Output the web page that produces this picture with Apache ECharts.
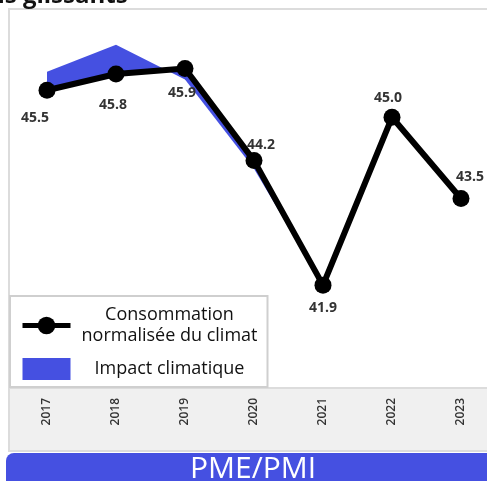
<!DOCTYPE html>
<html>
<head>
<meta charset="utf-8">
<script src="https://cdn.jsdelivr.net/npm/echarts@6/dist/echarts.min.js"></script>
<style>
  html, body { margin: 0; padding: 0; background: #fff; }
  #chart { width: 487px; height: 481px; }
</style>
</head>
<body>
<div id="chart"></div>
<script>
const years = ['2017', '2018', '2019', '2020', '2021', '2022', '2023']
const consommation = [45.5, 45.8, 45.9, 44.2, 41.9, 45.0, 43.5]
const impact = [45.84, 46.34, 45.7, 44.05, 41.9, 45.0, 43.42]

const nameConso = 'Consommation normalisée du climat'
const nameImpact = 'Impact climatique'
const blue = '#4550e1'
const font = 'Open Sans'

// label placement per point (offset from the dot centre)
const labelOffsets = [[-12, 28], [-3, 31], [-3, 24], [7, -16], [0, 23], [-4, -19], [9, -21]]

const chart = echarts.init(document.getElementById('chart'), null, { renderer: 'canvas' })

const option = {
  animation: false,
  backgroundColor: '#fff',
  grid: { left: 47, right: 26, top: 9, height: 379 },
  xAxis: {
    type: 'category',
    data: years,
    boundaryGap: false,
    axisLine: { show: false },
    axisTick: { show: false },
    axisLabel: { rotate: 90, margin: 10, fontFamily: font, fontSize: 12, fontWeight: 600, color: '#333' },
  },
  yAxis: { type: 'value', min: 40, max: 47, show: false, splitLine: { show: false } },
  legend: {
    left: 10,
    top: 296,
    orient: 'vertical',
    padding: [10, 4, 7, 10],
    itemGap: 13,
    itemWidth: 48,
    itemHeight: 22,
    backgroundColor: '#fff',
    borderColor: '#cfcfcf',
    borderWidth: 2,
    z: 10,
    lineStyle: { width: 5 },
    data: [
      { name: nameConso },
      { name: nameImpact, icon: 'rect', itemStyle: { color: blue } },
    ],
    formatter(name) {
      if (name === nameConso)
        return '{a|Consommation}\n{a|normalisée du climat}'
      return `{a|${name}}`
    },
    textStyle: {
      rich: {
        a: { width: 188, align: 'center', fontFamily: font, fontSize: 18, lineHeight: 21, color: '#111' },
      },
    },
  },
  graphic: [
    {
      type: 'text', left: -41, top: -16, z: -5,
      style: { text: 'mois glissants', fontFamily: font, fontSize: 24, fontWeight: 'bold', fill: '#111' },
    },
    {
      type: 'rect', z: -10,
      shape: { x: 9, y: 9, width: 500, height: 442 },
      style: { fill: '#fff', stroke: '#dcdcdc', lineWidth: 2 },
    },
    {
      type: 'rect', z: -9,
      shape: { x: 9, y: 388, width: 500, height: 63 },
      style: { fill: '#f0f0f0', stroke: '#dcdcdc', lineWidth: 2 },
    },
    {
      type: 'rect', z: -8,
      shape: { x: 6, y: 453, width: 500, height: 40, r: [8, 0, 0, 0] },
      style: { fill: blue },
    },
    {
      type: 'text', x: 253, y: 454, z: -7,
      style: { text: 'PME/PMI', fontFamily: font, fontSize: 30, fill: '#fff', align: 'center', verticalAlign: 'top' },
    },
  ],
  series: [
    {
      name: nameImpact,
      type: 'custom',
      z: 1,
      itemStyle: { color: blue },
      data: impact.map((v, i) => [i, v]),
      encode: { x: 0, y: 1 },
      renderItem(params, api) {
        const i = params.dataIndex
        if (i >= years.length - 1)
          return
        return {
          type: 'polygon',
          shape: {
            points: [
              api.coord([i, impact[i]]),
              api.coord([i + 1, impact[i + 1]]),
              api.coord([i + 1, consommation[i + 1]]),
              api.coord([i, consommation[i]]),
            ],
          },
          style: { fill: blue },
        }
      },
    },
    {
      name: nameConso,
      type: 'line',
      z: 3,
      data: consommation.map((v, i) => ({
        value: v,
        label: { offset: labelOffsets[i] },
      })),
      symbol: 'circle',
      symbolSize: 17,
      color: '#000',
      lineStyle: { color: '#000', width: 6 },
      itemStyle: { color: '#000' },
      label: {
        show: true,
        position: 'inside',
        fontFamily: font,
        fontSize: 14,
        fontWeight: 'bold',
        color: '#333',
        formatter: p => p.value.toFixed(1),
      },
    },
  ],
}

chart.setOption(option)
</script>
</body>
</html>
